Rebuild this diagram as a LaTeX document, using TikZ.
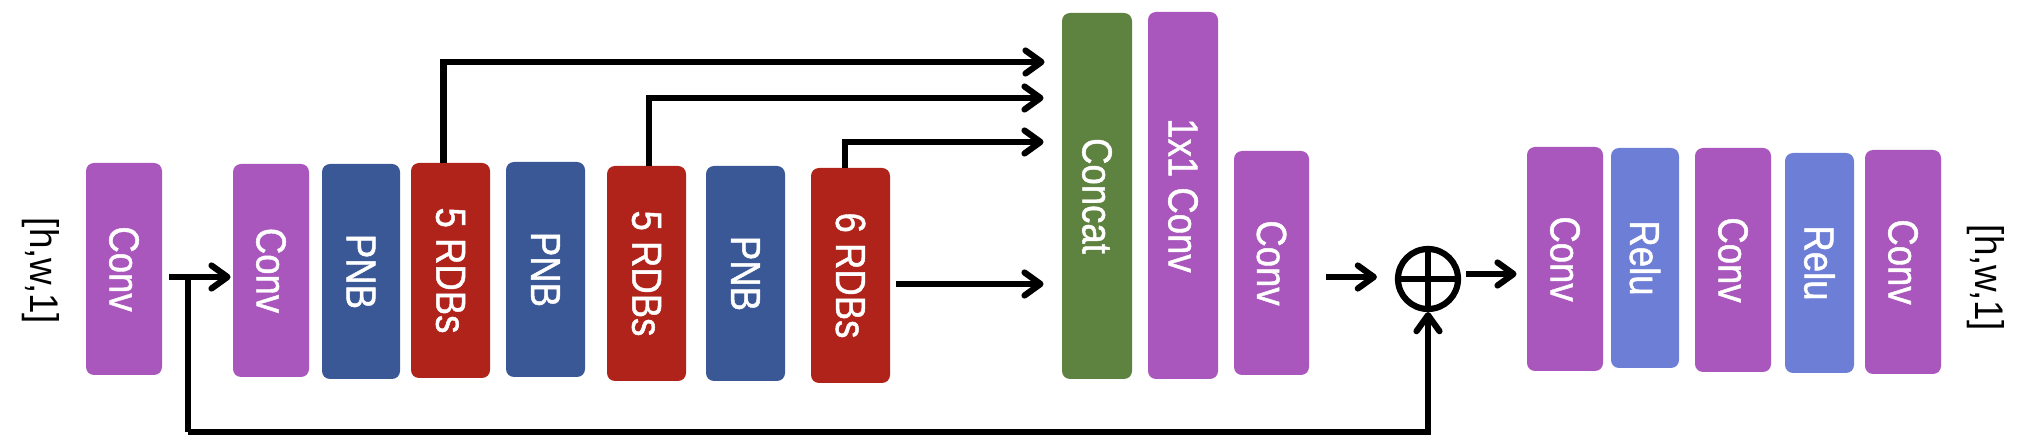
\documentclass[tikz,border=0pt]{standalone}
\usepackage{fontspec}
\setmainfont{Liberation Sans}
\newfontfamily\blkfont[FakeBold=1.2]{Liberation Sans}
\usetikzlibrary{arrows.meta}
\definecolor{cpurp}{HTML}{A957BD}
\definecolor{cpnb}{HTML}{3A5895}
\definecolor{crdb}{HTML}{B0231A}
\definecolor{cgreen}{HTML}{5E823F}
\definecolor{crelu}{HTML}{6D7ED6}
\newcommand\vtxt[1]{\rotatebox{-90}{\scalebox{0.87}[1]{#1}}}
\tikzset{
  blk/.style={rectangle, rounded corners=4pt, inner sep=0pt, fill=#1, draw=none,
    text=white, font=\blkfont\fontsize{21}{25}\selectfont},
  lbl/.style={inner sep=0pt, text=black, font=\fontsize{20}{24}\selectfont},
  conn/.style={line width=3.1pt, draw=black},
  arr/.style={conn, -{Straight Barb[length=8pt,width=11.5pt,round]}},
}
\begin{document}
\begin{tikzpicture}[x=0.5pt,y=-0.5pt]
\useasboundingbox (0,0) rectangle (2030,448);
% labels
\node[lbl] (inlbl) at (41,271) {\rotatebox{-90}{\scalebox{0.92}[1]{[h,w,1]}}};
\node[lbl] (outlbl) at (1986,278) {\rotatebox{-90}{\scalebox{0.92}[1]{[h,w,1]}}};
% blocks
\node[blk=cpurp, minimum width=38pt, minimum height=106pt] (conv1) at (124,269) {\vtxt{Conv}};
\node[blk=cpurp, minimum width=38pt, minimum height=106.5pt] (conv2) at (271,270.5) {\vtxt{Conv}};
\node[blk=cpnb, minimum width=39pt, minimum height=107.5pt] (pnb1) at (361,271.5) {\vtxt{PNB}};
\node[blk=crdb, minimum width=39.5pt, minimum height=107.5pt] (rdb1) at (450.5,270.5) {\vtxt{5 RDBs}};
\node[blk=cpnb, minimum width=39.5pt, minimum height=107.5pt] (pnb2) at (545.5,269.5) {\vtxt{PNB}};
\node[blk=crdb, minimum width=39.5pt, minimum height=107.5pt] (rdb2) at (646.5,273.5) {\vtxt{5 RDBs}};
\node[blk=cpnb, minimum width=39.5pt, minimum height=107.5pt] (pnb3) at (745.5,273.5) {\vtxt{PNB}};
\node[blk=crdb, minimum width=39.5pt, minimum height=107.5pt] (rdb3) at (850.5,275.5) {\vtxt{6 RDBs}};
\node[blk=cgreen, minimum width=35pt, minimum height=183pt] (concat) at (1097,196) {\vtxt{Concat}};
\node[blk=cpurp, minimum width=35pt, minimum height=183.5pt] (conv1x1) at (1183,195.5) {\vtxt{1x1 Conv}};
\node[blk=cpurp, minimum width=37.5pt, minimum height=112pt] (conv3) at (1271.5,263) {\vtxt{Conv}};
\node[circle, draw=black, line width=3.1pt, minimum size=30pt, inner sep=0pt] (plus) at (1428,279) {};
\draw[conn] (plus.north) -- (plus.south);
\draw[conn] (plus.west) -- (plus.east);
\node[blk=cpurp, minimum width=38pt, minimum height=112pt] (conv4) at (1565,259) {\vtxt{Conv}};
\node[blk=crelu, minimum width=34pt, minimum height=110pt] (relu1) at (1645,258) {\vtxt{Relu}};
\node[blk=cpurp, minimum width=38pt, minimum height=112pt] (conv5) at (1733,260) {\vtxt{Conv}};
\node[blk=crelu, minimum width=34.5pt, minimum height=110pt] (relu2) at (1819.5,263) {\vtxt{Relu}};
\node[blk=cpurp, minimum width=38pt, minimum height=112pt] (conv6) at (1903,262) {\vtxt{Conv}};
% helper levels
\coordinate (ya) at (0,277);
\coordinate (t1) at (0,62);
\coordinate (t2) at (0,98);
\coordinate (t3) at (0,142);
\coordinate (t4) at (0,284);
\coordinate (yb) at (0,274);
\coordinate (sk) at (188,277);
\coordinate (skb) at (188,432);
% connectors
\draw[arr, shorten <=3.5pt, shorten >=1pt] (conv1.east |- ya) -- (conv2.west |- ya);
\draw[conn] (sk) -- (skb);
\draw[arr] (skb) -| (plus.south);
\draw[arr, shorten >=8.5pt] ([xshift=-3.5pt]rdb1.north) |- (concat.west |- t1);
\draw[arr, shorten >=9pt] ([xshift=1.25pt]rdb2.north) |- (concat.west |- t2);
\draw[arr, shorten >=9pt] ([xshift=-2.75pt]rdb3.north) |- (concat.west |- t3);
\draw[arr, shorten <=3pt, shorten >=9pt] (rdb3.east |- t4) -- (concat.west |- t4);
\draw[arr, shorten <=8.5pt, shorten >=9pt] (conv3.east |- ya) -- (plus.west |- ya);
\draw[arr, shorten <=2.5pt, shorten >=5pt] (plus.east |- yb) -- (conv4.west |- yb);
\end{tikzpicture}
\end{document}
